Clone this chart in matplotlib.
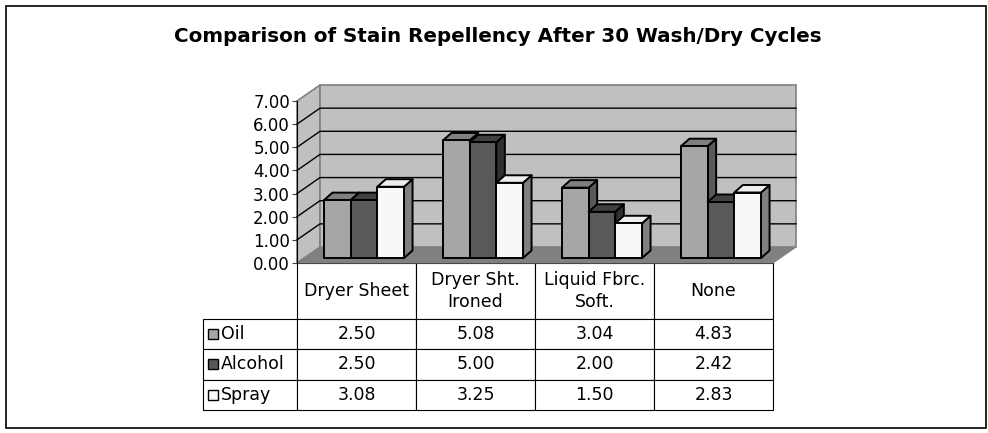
import matplotlib.pyplot as plt
from matplotlib.patches import Polygon, Rectangle
from matplotlib.table import Table

plt.rcParams["font.family"] = ["DejaVu Sans"]

TITLE = "Comparison of Stain Repellency After 30 Wash/Dry Cycles"
categories = ["Dryer Sheet", "Dryer Sht.\nIroned", "Liquid Fbrc.\nSoft.", "None"]
series = ["Oil", "Alcohol", "Spray"]
oil = [2.50, 5.08, 3.04, 4.83]
alcohol = [2.50, 5.00, 2.00, 2.42]
spray = [3.08, 3.25, 1.50, 2.83]
y_ticks = [0, 1, 2, 3, 4, 5, 6, 7]

# face / top / side shades per series
SHADES = {
    "Oil": ("#a6a6a6", "#808080", "#595959"),
    "Alcohol": ("#595959", "#404040", "#303030"),
    "Spray": ("#f8f8f8", "#eeeeee", "#808080"),
}
WALL = "#c0c0c0"
FLOOR = "#808080"
EDGE = "#808080"

W, H = 988, 433
AX_W, AX_H = 476.0, 162.0
PX_X = AX_W / 4       # pixels per category
PX_Y = AX_H / 7       # pixels per unit
DX, DY = 23 / PX_X, 16 / PX_Y          # full depth of the box
BDX, BDY = 8.5 / PX_X, 7.5 / PX_Y      # depth of one bar
LIFT_X, LIFT_Y = 7.5 / PX_X, 5 / PX_Y  # bar front plane offset
BW = 26.7 / PX_X                        # bar width


def bar3d(ax, x0, v, shades, z):
    face, top, side = shades
    y0 = LIFT_Y
    front = [(x0, y0), (x0 + BW, y0), (x0 + BW, y0 + v), (x0, y0 + v)]
    lid = [(x0, y0 + v), (x0 + BW, y0 + v), (x0 + BW + BDX, y0 + v + BDY),
           (x0 + BDX, y0 + v + BDY)]
    flank = [(x0 + BW, y0), (x0 + BW + BDX, y0 + BDY),
             (x0 + BW + BDX, y0 + v + BDY), (x0 + BW, y0 + v)]
    for pts, c in ((flank, side), (lid, top), (front, face)):
        ax.add_patch(Polygon(pts, closed=True, fc=c, ec="black", lw=1.4,
                             joinstyle="round", clip_on=False, zorder=z))


fig = plt.figure(figsize=(W / 100, H / 100), dpi=100)
fig.patches.append(Rectangle((6 / W, 1 - 428 / H), 980 / W, 422 / H,
                             transform=fig.transFigure, fill=False,
                             ec="black", lw=1.2))
fig.text(498 / W, 1 - 36 / H, TITLE, ha="center", va="center",
         fontsize=14.3, fontweight="bold")

ax = fig.add_axes([297 / W, 1 - 263 / H, AX_W / W, AX_H / H])
n = len(categories)
top = y_ticks[-1]
ax.set_xlim(0, n)
ax.set_ylim(0, top)
ax.patch.set_visible(False)

# box: floor, side wall, back wall
ax.add_patch(Polygon([(0, 0), (n, 0), (n + DX, DY), (DX, DY)], fc=FLOOR,
                     ec=EDGE, lw=0.8, clip_on=False, zorder=1))
ax.add_patch(Polygon([(0, 0), (DX, DY), (DX, top + DY), (0, top)], fc=WALL,
                     ec=EDGE, lw=1.2, clip_on=False, zorder=1))
ax.add_patch(Polygon([(DX, DY), (n + DX, DY), (n + DX, top + DY), (DX, top + DY)],
                     fc=WALL, ec=EDGE, lw=1.2, clip_on=False, zorder=1))
for k in y_ticks[1:-1]:
    ax.plot([0, DX, n + DX], [k, k + DY, k + DY], color="black", lw=1,
            clip_on=False, zorder=2)

for i in range(n):
    left = i + 0.5 + LIFT_X - 1.5 * BW
    for j, (name, vals) in enumerate(zip(series, (oil, alcohol, spray))):
        bar3d(ax, left + j * BW, vals[i], SHADES[name], 3 + j)

ax.set_yticks(y_ticks)
ax.set_yticklabels([f"{t:.2f}" for t in y_ticks])
ax.set_xticks([])
for s in ("top", "right", "bottom"):
    ax.spines[s].set_visible(False)
ax.spines["left"].set_color("black")
ax.spines["left"].set_linewidth(0.8)
ax.spines["left"].set_zorder(6)
ax.tick_params(axis="y", direction="out", length=3.5, width=0.8, color="#404040",
               pad=1.5, labelsize=12)

# data table below the floor (sizes in axes fractions)
head_h, row_h, key_w = 56 / AX_H, 30.3 / AX_H, 94 / AX_W
col_w = PX_X / AX_W
total_h = head_h + 3 * row_h
tb = Table(ax, bbox=[0, -total_h, 1, total_h])
for c, cat in enumerate(categories):
    tb.add_cell(0, c, width=col_w, height=head_h, text=cat, loc="center")
for r, (name, vals) in enumerate(zip(series, (oil, alcohol, spray)), start=1):
    cell = tb.add_cell(r, -1, width=key_w, height=row_h, text=name, loc="left")
    cell.PAD = 18 / 94
    for c, v in enumerate(vals):
        tb.add_cell(r, c, width=col_w, height=row_h, text=f"{v:.2f}", loc="center")
tb.auto_set_font_size(False)
tb.set_fontsize(12.5)
for cell in tb.get_celld().values():
    cell.set_linewidth(0.8)
    cell.get_text().set_linespacing(1.35)
ax.add_table(tb)

# legend keys in the row-label cells
for r, name in enumerate(series):
    yc = -(head_h + (r + 0.5) * row_h)
    ax.add_patch(Rectangle((-89 / AX_W, yc - 5 / AX_H), 10 / AX_W, 10 / AX_H,
                           transform=ax.transAxes, fc=SHADES[name][0],
                           ec="black", lw=1, clip_on=False, zorder=6))

fig.savefig("out.png", dpi=100, facecolor="white")
